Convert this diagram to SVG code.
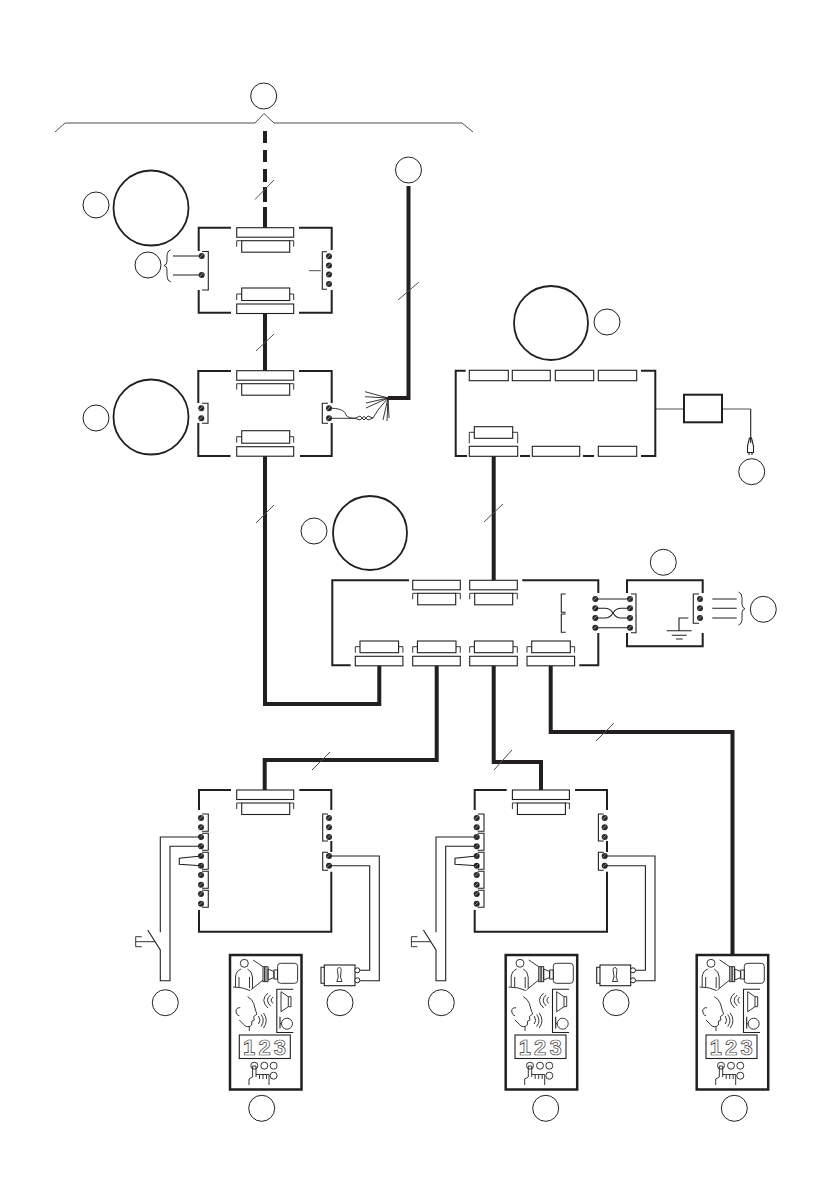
<svg xmlns="http://www.w3.org/2000/svg" xmlns:xlink="http://www.w3.org/1999/xlink" width="840" height="1192" viewBox="0 0 840 1192">
<style>
.b{fill:none;stroke:#231f20;stroke-width:2;stroke-linecap:butt}
.t{fill:none;stroke:#231f20;stroke-width:4;stroke-linejoin:miter}
.w{fill:none;stroke:#231f20;stroke-width:1.1}
.f{fill:none;stroke:#231f20;stroke-width:.9}
.g{fill:none;stroke:#55514f;stroke-width:1}
.r{fill:#fff;stroke:#231f20;stroke-width:1.1}
.c{fill:#fff;stroke:#231f20;stroke-width:1}
.C{fill:#fff;stroke:#231f20;stroke-width:1.8}
.d{font-family:"Liberation Sans",Arial,sans-serif;font-size:22px;font-weight:bold;fill:none;stroke:#3a3637;stroke-width:.7}
</style>
<defs>
<g id="dot"><circle r="3" fill="#2b2829"/><path d="M-2 1.6L1.6-2" stroke="#bbb" stroke-width=".7"/></g>
<g id="c57d"><rect class="r" width="57" height="9.5"/><rect class="r" x="5" y="13" width="48" height="11.5"/><path class="f" d="M0 19V13H5M53 13H57V19"/></g>
<g id="c57u"><rect class="r" width="57" height="9.5"/><rect class="r" x="5" y="-16" width="48" height="12.5"/><path class="f" d="M0-4V-10H5M53-10H57V-4"/></g>
<g id="c48d"><rect class="r" width="47.6" height="9.5"/><rect class="r" x="5" y="13" width="38" height="11.5"/><path class="f" d="M0 19V13H5M43 13H47.6V19"/></g>
<g id="c48u"><rect class="r" width="47.6" height="9.5"/><rect class="r" x="4.7" y="-15.3" width="38.6" height="11.7"/><path class="f" d="M0-3.6V-9.6H4.7M43.3-9.6H47.6V-3.6"/></g>
<g id="ctrl">
<path class="b" d="M199 810V790H231M299.300 790H331.300V810M199 910V931.700H331.300V871.700M331.300 841V852"/>
<use xlink:href="#c57d" x="236.700" y="790"/>
<use xlink:href="#dot" x="201" y="818"/><use xlink:href="#dot" x="201" y="827.300"/><use xlink:href="#dot" x="201" y="837"/><use xlink:href="#dot" x="201" y="846.300"/><use xlink:href="#dot" x="201" y="856"/><use xlink:href="#dot" x="201" y="865.700"/><use xlink:href="#dot" x="201" y="875"/><use xlink:href="#dot" x="201" y="884.700"/><use xlink:href="#dot" x="201" y="894"/><use xlink:href="#dot" x="201" y="903.700"/>
<path class="w" d="M202 814H208.300V831.300H202M202 833.300H208.300V850.300H202M202 852.300H208.300V869.300H202M202 871.300H208.300V888.300H202M202 890.300H208.300V907.300H202"/>
<use xlink:href="#dot" x="329" y="818"/><use xlink:href="#dot" x="329" y="827.300"/><use xlink:href="#dot" x="329" y="837"/><use xlink:href="#dot" x="329" y="856"/><use xlink:href="#dot" x="329" y="865.700"/>
<path class="w" d="M328 814H322.700V841H328M328 852.300H322.700V870.300H328"/>
<path class="w" d="M201 837H160.300V932.300M201 846.300H170V980.700H160.300V950L147.700 930M201 856L179.300 858.300V864.300L201 865.700M329 856H379.300V980.700H360M329 865.700H369.700V970.300H360"/>
<path class="f" d="M141.700 936.700H135.700V946.700H141.700M135.700 941.700H155"/>
<rect class="r" x="324.300" y="965" width="30.700" height="20.700"/>
<path class="w" d="M324.300 967.300H321V983.300H324.300"/>
<circle class="c" cx="357.300" cy="970.300" r="2.500"/><circle class="c" cx="357.300" cy="980.300" r="2.500"/>
<path class="f" d="M337.500 970.500a2 2 0 1 1 3.600 0L340.500 977L342 981.500H336.800L338.300 977Z"/>
</g>
<g id="panel">
<rect x="230" y="955" width="71.500" height="134.500" fill="#fff" stroke="#231f20" stroke-width="2.500"/>
<circle class="f" cx="244.300" cy="963.300" r="4"/>
<path class="f" d="M235.500 987V977Q236 971 241 969M247.500 969Q252 971 252.500 977V988M239 977V987M249.500 977V988M233 987Q243 987 250 990.500M253 960L263 966.700M250.700 990L263 980"/>
<rect class="f" x="263" y="966.700" width="5" height="15"/><path class="f" d="M264.500 966.700V981.700M266 966.700V981.700M268 969L274 971.500V977.500L268 980Z"/><rect class="f" x="274" y="970" width="3.600" height="9"/>
<rect class="f" x="277.600" y="963.300" width="20" height="20" rx="3"/>
<path class="w" d="M293.300 989.300H276.800V1032.500H293.300"/>
<path class="f" d="M281 991.700L288.300 996.700H291V1006.700H288.300L281 1011.700ZM288.300 996.700V1006.700"/>
<path class="w" d="M280 1016.700V1028.500M280 1023.700H281.500"/><circle class="f" cx="287" cy="1023.700" r="5.500"/>
<path class="f" d="M268 993Q259.500 1000 268 1008M270.500 995Q264.500 1000 270.500 1006M273 997Q269.500 1000 273 1003.500"/>
<path class="f" d="M258.500 1016Q261.500 1020.500 258.500 1024M261 1014.500Q265.500 1020.500 261 1026.500M263.500 1013Q269 1020.500 263.500 1028"/>
<path class="f" d="M247.600 996.700Q252 999 253.600 1003.300L256 1011.700L257 1014L253.600 1016.700L254.300 1020L252 1021L251.600 1025Q250.500 1026.700 247.600 1026.700Q245 1026.700 243.600 1024.300L239.300 1020M249.300 1026.700V1031M240.300 1007.700Q236 1007.500 236 1011Q236.500 1015.500 239.300 1015.700"/>
<rect class="w" x="239.300" y="1035" width="51" height="23.500"/>
<text class="d" x="243" y="1054.800" textLength="43">123</text>
<circle class="f" cx="254.300" cy="1065.700" r="3.500"/><circle class="f" cx="264.300" cy="1065.700" r="3.500"/><circle class="f" cx="273.600" cy="1065.700" r="3.500"/><circle class="f" cx="273.600" cy="1075.700" r="3.500"/>
<path class="f" d="M249 1085V1079L252.600 1077V1066H256V1077M256 1074.500H259.500V1079M259.500 1074.500H263V1079M263 1074.500H266.500V1079M266.500 1074.500H269V1085"/>
</g>
</defs>
<rect width="840" height="1192" fill="#fff"/>
<g id="connectors">
<path id="bus-bracket" class="g" d="M55 132L65 123H255L264 113.500L274 123H462L473 132"/>
<path class="t" stroke-dasharray="12 7 12 7 13 5 15 5 21" d="M265 131V228"/>
<path class="t" d="M265 312.700V371M408.500 186V398H388M265 456V704H379.300V665M493.700 456V580M436.700 665V760H264.700V790M493.700 665V762H541V790M550.700 665V732H732.500V955"/>
<path class="g" d="M255 199.500L274 180M256 351L274 334M398 300L419 282M256 523L274 505M484 522L503 504M312 770L330 752M494 770L512 750M596 741L614 723"/>
<path class="w" d="M173 256H201M173 275H201"/>
<path class="f" d="M329 408.300C338 408 345 410 346 415Q348 418.300 355 418.300L360 420L364 416.500L368 420L373 418L378 410L388 398M329 418.300H355L360 416L364 420L368 416L373 418M388 398L365 391.700M388 398L365 396.700M388 398L366 403M388 398L366 408M388 398L383 420M388 398L387 421M388 398L389 418"/>
<path class="g" d="M655.300 409H684M722 409H750.700"/>
<path class="w" d="M750.700 409V443"/>
</g>
<g id="bus"><circle class="c" cx="263.700" cy="96" r="13"/></g>
<g id="cloud-link"><circle class="c" cx="408.500" cy="170" r="13"/></g>
<g id="node-a">
<circle class="C" cx="151" cy="208" r="37.500"/><circle class="c" cx="96" cy="205" r="13"/><circle class="c" cx="148" cy="265" r="13"/>
<path class="b" d="M198.700 251V227.700H231M299 227.700H331.700V250M198.700 290V312.700H231M299 312.700H331.700V290"/>
<use xlink:href="#c57d" x="236.700" y="227.700"/><use xlink:href="#c57u" x="236.700" y="304"/>
<use xlink:href="#dot" x="201.700" y="256"/><use xlink:href="#dot" x="201.700" y="275"/>
<path class="w" d="M202 251.500H208.300V290H202M327 251.700H322.300V289.300H327"/>
<use xlink:href="#dot" x="329" y="256.300"/><use xlink:href="#dot" x="329" y="265.600"/><use xlink:href="#dot" x="329" y="274.600"/><use xlink:href="#dot" x="329" y="284"/>
<path class="g" d="M309 270.700H320.700"/>
<path class="f" d="M170.500 250Q167 251 167 257V261Q167 265 164 265.500Q167 266 167 270V276Q167 281 171 282"/>
</g>
<g id="node-b">
<circle class="C" cx="151" cy="417" r="37.500"/><circle class="c" cx="96" cy="418" r="13"/>
<path class="b" d="M198.300 403V371H231M299 371H331.700V403M198.300 423V456H230.500M300 456H331.700V423"/>
<use xlink:href="#c57d" x="236.700" y="370.700"/><use xlink:href="#c57u" x="236.700" y="446.700"/>
<use xlink:href="#dot" x="201.300" y="408.300"/><use xlink:href="#dot" x="201.300" y="418.300"/><use xlink:href="#dot" x="329" y="408.300"/><use xlink:href="#dot" x="329" y="418.300"/>
<path class="w" d="M202 403.300H208V423.300H202M328 403.300H322.300V423.300H328"/>
</g>
<g id="node-c">
<circle class="C" cx="551" cy="323" r="37"/><circle class="c" cx="607" cy="322" r="13"/>
<path class="b" d="M465.700 370.700H455.700V456H467M520 456H530M583 456H594M641 370.700H655.300V456H641"/>
<rect class="r" x="469.300" y="370.300" width="39" height="10.400"/><rect class="r" x="512.300" y="370.300" width="38" height="10.400"/><rect class="r" x="555.300" y="370.300" width="38.400" height="10.400"/><rect class="r" x="598.300" y="370.300" width="38.400" height="10.400"/>
<rect class="r" x="469.300" y="446.300" width="48.400" height="10"/><rect class="r" x="532.300" y="446.300" width="47.400" height="10"/><rect class="r" x="598.300" y="446.300" width="38.400" height="10"/>
<rect class="r" x="474.300" y="426.700" width="38.400" height="11.600"/><path class="f" d="M469.300 443.300V432.300H474.300M512.700 432.300H517.700V443.300"/>
<rect x="684" y="394.700" width="38" height="27.600" fill="#fff" stroke="#231f20" stroke-width="2"/>
<path class="w" d="M749.500 438L747.500 446V452.500H753.500V446L751.500 438ZM749 452.500V455M752 452.500V455"/>
<circle class="c" cx="751.700" cy="471.700" r="13"/>
</g>
<g id="node-d">
<circle class="C" cx="370" cy="533" r="37"/><circle class="c" cx="314" cy="531" r="13"/>
<path class="b" d="M409 580.300H332.300V665.300H350.700M522.300 580.300H598.300V593M598.300 633V665.300H579.300"/>
<use xlink:href="#c48d" x="412.700" y="580.300"/><use xlink:href="#c48d" x="469.700" y="580.300"/>
<use xlink:href="#c48u" x="355.300" y="656.300"/><use xlink:href="#c48u" x="412.700" y="656.300"/><use xlink:href="#c48u" x="469.700" y="656.300"/><use xlink:href="#c48u" x="527" y="656.300"/>
<path class="w" d="M565.700 594H561.300V612.300H565.700M565.700 614H561.300V632.300H565.700"/>
<path class="w" d="M595.300 599H630M595.300 627.700H630M595.300 608.300H605Q610 608.300 613 613Q616 618 621 618H630M595.300 618H605Q610 618 613 613Q616 608.300 621 608.300H630"/>
<use xlink:href="#dot" x="595.300" y="599"/><use xlink:href="#dot" x="595.300" y="608.300"/><use xlink:href="#dot" x="595.300" y="618"/><use xlink:href="#dot" x="595.300" y="627.700"/>
</g>
<g id="node-e">
<circle class="c" cx="663.300" cy="562.300" r="13"/><circle class="c" cx="763.300" cy="609.300" r="13"/>
<path class="b" d="M627 593V580.300H702.700V593M627 633V646.300H702.700V633"/>
<use xlink:href="#dot" x="630" y="599"/><use xlink:href="#dot" x="630" y="608.300"/><use xlink:href="#dot" x="630" y="618"/><use xlink:href="#dot" x="630" y="627.700"/>
<path class="w" d="M631 594H636V632.700H631M699 594H693.300V623.300H699"/>
<use xlink:href="#dot" x="700" y="599"/><use xlink:href="#dot" x="700" y="608.300"/><use xlink:href="#dot" x="700" y="618"/>
<path class="w" d="M712.300 599H736.700M712.300 608.300H736.700M712.300 618H736.700"/>
<path class="f" d="M738.500 592Q742 593 742 598V604Q742 608 745 608.700Q742 609.500 742 613V620Q742 624 738.500 625"/>
<path class="w" d="M688.300 618H679V630.700M666.700 630.700H691.700M671.700 635.300H686.700M676 639H682.700"/>
</g>
<g id="node-f">
<use xlink:href="#ctrl"/>
<circle class="c" cx="165.300" cy="1002.700" r="13"/><circle class="c" cx="340" cy="1002.700" r="13"/>
<use xlink:href="#panel"/><circle class="c" cx="261.700" cy="1108.300" r="13"/>
</g>
<g id="node-g">
<use xlink:href="#ctrl" x="275.700"/>
<circle class="c" cx="441.300" cy="1002.700" r="13"/><circle class="c" cx="616" cy="1002.700" r="13"/>
<use xlink:href="#panel" x="275.700"/><circle class="c" cx="545.700" cy="1108.300" r="13"/>
</g>
<g id="node-h">
<use xlink:href="#panel" x="466.700"/><circle class="c" cx="734.300" cy="1108.300" r="13"/>
</g>
</svg>
